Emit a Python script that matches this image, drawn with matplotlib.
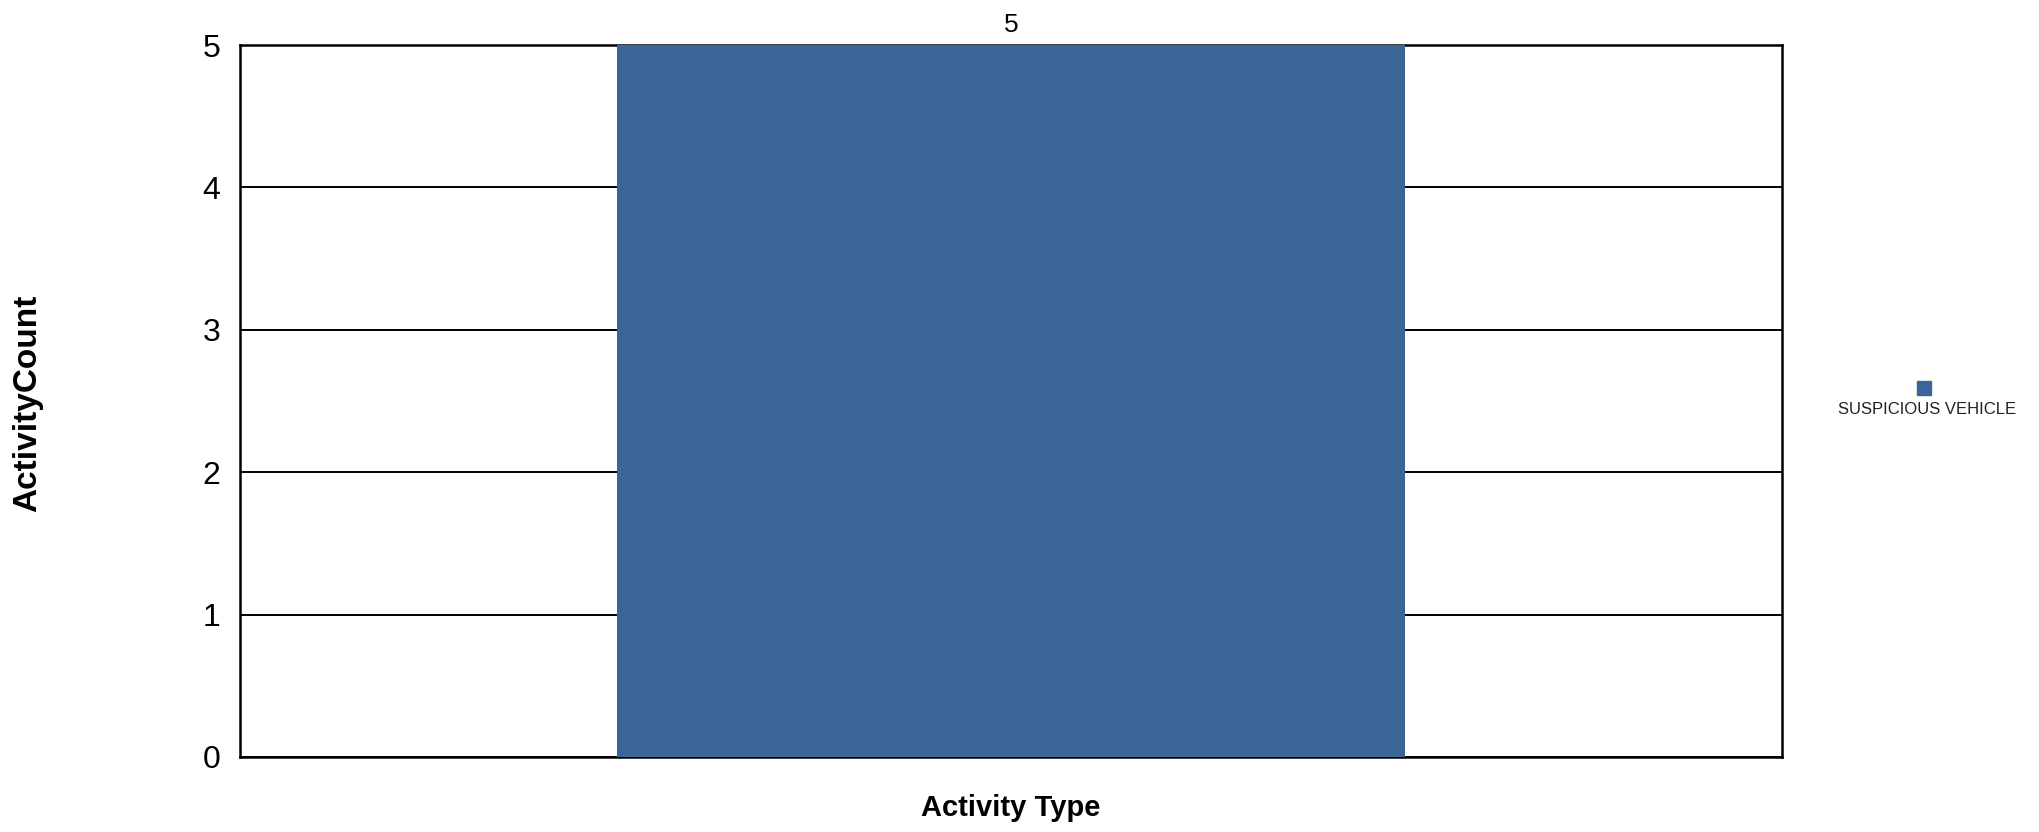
import matplotlib.pyplot as plt
from matplotlib.patches import Rectangle

categories = ['SUSPICIOUS VEHICLE']
counts = [5]
yticks = [0, 1, 2, 3, 4, 5]

W, H = 2040, 832
bar_color = '#3a6597'

plt.rcParams['font.family'] = ['Liberation Sans', 'DejaVu Sans']

fig = plt.figure(figsize=(W / 100, H / 100), dpi=100)
ax = fig.add_axes([240 / W, 1 - 757 / H, (1782 - 240) / W, (757 - 45) / H])

pos = list(range(len(categories)))
bars = ax.bar(pos, counts, width=0.511, color=bar_color, zorder=3)
ax.bar_label(bars, labels=[str(c) for c in counts], padding=6, fontsize=19)

ax.set_xlim(-0.5, len(categories) - 0.5)
ax.set_ylim(0, max(yticks))
ax.set_yticks(yticks)
ax.set_xticks([])
ax.tick_params(axis='y', length=0, labelsize=23, pad=14)
ax.yaxis.grid(True, color='black', linewidth=1.4, zorder=1)
ax.set_axisbelow(True)
for s in ax.spines.values():
    s.set_linewidth(1.8)
    s.set_color('black')

ax.set_xlabel('Activity Type', fontsize=21, fontweight='bold', labelpad=27)
fig.text(28 / W, 1 - 403 / H, 'ActivityCount', rotation=90, fontsize=24,
         fontweight='bold', ha='center', va='center')

# legend: square above label
fig.patches.append(Rectangle((1917 / W, 1 - 395 / H), 14 / W, 14 / H,
                             transform=fig.transFigure, color=bar_color))
fig.text(1927 / W, 1 - 409 / H, categories[0], fontsize=12,
         ha='center', va='center', color='#222222')

fig.savefig('out.png', dpi=100)
